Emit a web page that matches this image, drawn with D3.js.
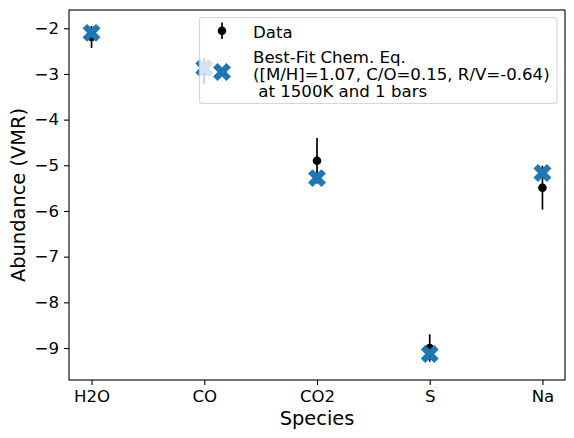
<!DOCTYPE html>
<html>
<head>
<meta charset="utf-8">
<script src="https://cdn.jsdelivr.net/npm/d3@7"></script>
<style>
  body { margin: 0; background: #fff; }
  svg { display: block; font-family: "DejaVu Sans", sans-serif; }
  text { white-space: pre; }
</style>
</head>
<body>
<svg id="chart" width="574" height="438"></svg>
<script>
const species = ["H2O", "CO", "CO2", "S", "Na"];
const dataValues = [-2.19, -2.94, -4.90, -9.00, -5.49];
const dataErrors = [0.24, 0.28, 0.50, 0.30, 0.48];
const modelValues = [-2.10, -2.87, -5.28, -9.13, -5.17];
const yTicks = [-9, -8, -7, -6, -5, -4, -3, -2];
const legendLabels = ["Data", "Best-Fit Chem. Eq.", "([M/H]=1.07, C/O=0.15, R/V=-0.64)", " at 1500K and 1 bars"];

const svg = d3.select("#chart");
const m = { left: 69, right: 565, top: 10, bottom: 380 };

const x = d3.scaleLinear().domain([-0.2, species.length - 1 + 0.2]).range([m.left, m.right]);
const y = d3.scaleLinear().domain([-9.7, -1.6]).range([m.bottom, m.top]);

const fmt = v => String(v).replace("-", "\u2212");

// axes
const yAxis = svg.append("g").attr("transform", `translate(${m.left},0)`)
  .call(d3.axisLeft(y).tickValues(yTicks).tickFormat(fmt).tickSize(5).tickPadding(5));
const xAxis = svg.append("g").attr("transform", `translate(0,${m.bottom})`)
  .call(d3.axisBottom(x).tickValues(d3.range(species.length)).tickFormat(i => species[i]).tickSize(5).tickPadding(5));
[yAxis, xAxis].forEach(g => {
  g.selectAll("text").attr("font-size", 16.6).attr("fill", "#000").attr("font-family", "DejaVu Sans");
  g.selectAll("line").attr("stroke", "#000").attr("stroke-width", 1.1);
  g.select(".domain").remove();
});
// frame
svg.append("rect").attr("x", m.left).attr("y", m.top)
  .attr("width", m.right - m.left).attr("height", m.bottom - m.top)
  .attr("fill", "none").attr("stroke", "#000").attr("stroke-width", 1.1);

// axis labels
svg.append("text").attr("x", (m.left + m.right) / 2).attr("y", 425)
  .attr("text-anchor", "middle").attr("font-size", 19.4).text("Species");
svg.append("text").attr("transform", `translate(25,${(m.top + m.bottom) / 2}) rotate(-90)`)
  .attr("text-anchor", "middle").attr("font-size", 19.4).text("Abundance (VMR)");

// X marker path (matplotlib filled 'X')
function xMarker(s) {
  const a = s / 6, b = s / 2;
  const pts = [[-a,-b],[a,-b],[a,-a],[b,-a],[b,a],[a,a],[a,b],[-a,b],[-a,a],[-b,a],[-b,-a],[-a,-a]];
  const r = pts.map(([px, py]) => [(px - py) / Math.SQRT2, (px + py) / Math.SQRT2]);
  return "M" + r.map(p => p.join(",")).join("L") + "Z";
}

const plot = svg.append("g");
// error bars + data
species.forEach((sp, i) => {
  plot.append("line")
    .attr("x1", x(i)).attr("x2", x(i))
    .attr("y1", y(dataValues[i] + dataErrors[i])).attr("y2", y(dataValues[i] - dataErrors[i]))
    .attr("stroke", "#000").attr("stroke-width", 1.7);
  plot.append("circle").attr("cx", x(i)).attr("cy", y(dataValues[i])).attr("r", 4.3).attr("fill", "#000");
});
// model markers
species.forEach((sp, i) => {
  plot.append("path").attr("d", xMarker(19))
    .attr("transform", `translate(${x(i)},${y(modelValues[i])})`)
    .attr("fill", "#1f77b4");
});

// legend
const lg = svg.append("g");
lg.append("rect").attr("x", 199.5).attr("y", 17.5).attr("width", 357.5).attr("height", 86)
  .attr("rx", 3).attr("fill", "#fff").attr("fill-opacity", 0.8)
  .attr("stroke", "#cccccc").attr("stroke-opacity", 0.8).attr("stroke-width", 1.1);
lg.append("line").attr("x1", 222).attr("x2", 222).attr("y1", 22.5).attr("y2", 39)
  .attr("stroke", "#000").attr("stroke-width", 1.7);
lg.append("circle").attr("cx", 222).attr("cy", 30.8).attr("r", 4.3).attr("fill", "#000");
lg.append("text").attr("x", 253).attr("y", 38).attr("font-size", 16.6).text(legendLabels[0]);
lg.append("path").attr("d", xMarker(19)).attr("transform", "translate(222,72)").attr("fill", "#1f77b4");
legendLabels.slice(1).forEach((t, k) => {
  lg.append("text").attr("x", 253).attr("y", 62.5 + k * 17).attr("font-size", 16.6).text(t);
});
</script>
</body>
</html>
